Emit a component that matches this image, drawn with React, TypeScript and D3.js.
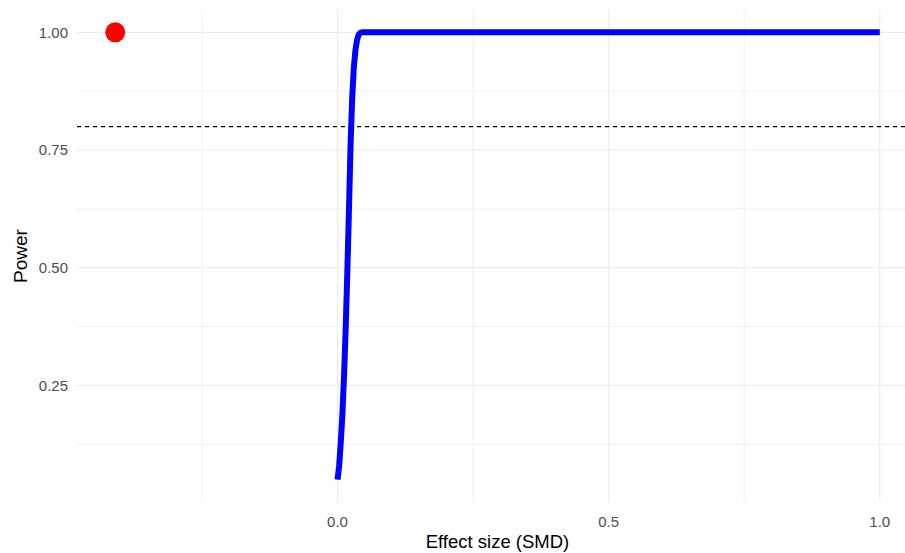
import React from "react";
import * as d3 from "d3";

// Power curve: effect size (SMD) vs. statistical power
const effectSize = [
  0.0, 0.003, 0.006, 0.009, 0.012, 0.015, 0.018, 0.021, 0.024, 0.027, 0.03,
  0.033, 0.036, 0.039, 0.042, 0.045, 0.1, 0.2, 0.3, 0.4, 0.5, 0.6, 0.7, 0.8,
  0.9, 1.0,
];
const power = [
  0.05, 0.08, 0.13, 0.19, 0.27, 0.37, 0.49, 0.62, 0.76, 0.86, 0.925, 0.962,
  0.984, 0.995, 0.999, 1.0, 1.0, 1.0, 1.0, 1.0, 1.0, 1.0, 1.0, 1.0, 1.0, 1.0,
];

// Observed study marker
const observedEffect = [-0.41];
const observedPower = [1.0];

// Target power reference line
const targetPower = 0.8;

const xMajorTicks = [0.0, 0.5, 1.0];
const xMinorTicks = [-0.25, 0.25, 0.75];
const yMajorTicks = [0.25, 0.5, 0.75, 1.0];
const yMinorTicks = [0.125, 0.375, 0.625, 0.875];

const xTitle = "Effect size (SMD)";
const yTitle = "Power";

const W = 905;
const H = 553;
const panel = { left: 77, right: 918, top: 10, bottom: 502 };

export default function App() {
  const allX = [...effectSize, ...observedEffect];
  const allY = [...power, ...observedPower];
  const [x0, x1] = d3.extent(allX) as [number, number];
  const [y0, y1] = d3.extent(allY) as [number, number];
  const xPad = (x1 - x0) * 0.05;
  const yPad = (y1 - y0) * 0.05;

  const x = d3
    .scaleLinear()
    .domain([x0 - xPad, x1 + xPad])
    .range([panel.left, panel.right]);
  const y = d3
    .scaleLinear()
    .domain([y0 - yPad, y1 + yPad])
    .range([panel.bottom, panel.top]);

  const line = d3
    .line<number>()
    .x((_, i) => x(effectSize[i]))
    .y((p) => y(p));

  const font = "'Liberation Sans', Arial, Helvetica, sans-serif";
  const grid = "#EBEBEB";

  return (
    <svg
      width={W}
      height={H}
      style={{ position: "absolute", left: 0, top: 0, background: "#fff" }}
      fontFamily={font}
    >
      <rect x={0} y={0} width={W} height={H} fill="#fff" />
      {/* minor grid */}
      {xMinorTicks.map((t) => (
        <line
          key={"xm" + t}
          x1={x(t)}
          x2={x(t)}
          y1={panel.top}
          y2={panel.bottom}
          stroke={grid}
          strokeWidth={0.8}
        />
      ))}
      {yMinorTicks.map((t) => (
        <line
          key={"ym" + t}
          x1={panel.left}
          x2={panel.right}
          y1={y(t)}
          y2={y(t)}
          stroke={grid}
          strokeWidth={0.8}
        />
      ))}
      {/* major grid */}
      {xMajorTicks.map((t) => (
        <line
          key={"xM" + t}
          x1={x(t)}
          x2={x(t)}
          y1={panel.top}
          y2={panel.bottom}
          stroke={grid}
          strokeWidth={1.1}
        />
      ))}
      {yMajorTicks.map((t) => (
        <line
          key={"yM" + t}
          x1={panel.left}
          x2={panel.right}
          y1={y(t)}
          y2={y(t)}
          stroke={grid}
          strokeWidth={1.1}
        />
      ))}

      {/* target power */}
      <line
        x1={panel.left}
        x2={panel.right}
        y1={y(targetPower)}
        y2={y(targetPower)}
        stroke="#000"
        strokeWidth={1.3}
        strokeDasharray="4,4"
      />

      {/* power curve */}
      <path
        d={line(power) ?? ""}
        fill="none"
        stroke="#0000FF"
        strokeWidth={6}
        strokeLinejoin="round"
        strokeLinecap="butt"
      />

      {/* observed point */}
      {observedEffect.map((e, i) => (
        <circle key={"pt" + i} cx={x(e)} cy={y(observedPower[i])} r={10} fill="#FF0000" />
      ))}

      {/* axis tick labels */}
      {xMajorTicks.map((t) => (
        <text
          key={"xl" + t}
          x={x(t)}
          y={527}
          textAnchor="middle"
          fontSize={15}
          fill="#4D4D4D"
        >
          {d3.format(".1f")(t)}
        </text>
      ))}
      {yMajorTicks.map((t) => (
        <text
          key={"yl" + t}
          x={68}
          y={y(t)}
          dy="0.35em"
          textAnchor="end"
          fontSize={15}
          fill="#4D4D4D"
        >
          {d3.format(".2f")(t)}
        </text>
      ))}

      {/* axis titles */}
      <text
        x={(panel.left + panel.right) / 2}
        y={548}
        textAnchor="middle"
        fontSize={18.5}
        fill="#000"
      >
        {xTitle}
      </text>
      <text
        transform={`translate(27,${(panel.top + panel.bottom) / 2}) rotate(-90)`}
        textAnchor="middle"
        fontSize={19}
        fill="#000"
      >
        {yTitle}
      </text>
    </svg>
  );
}
